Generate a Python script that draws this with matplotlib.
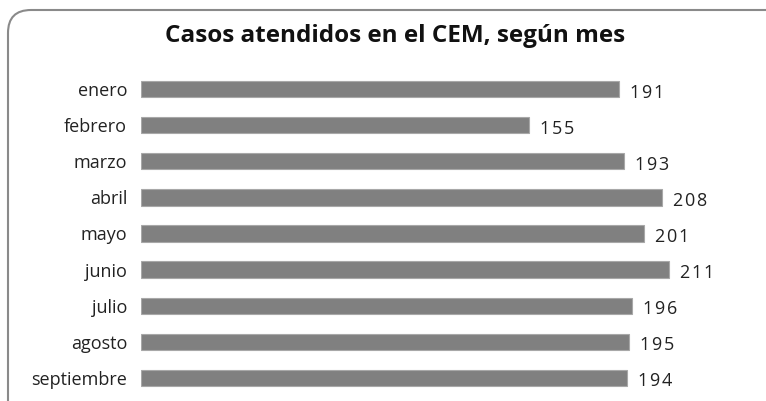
import matplotlib.pyplot as plt
from matplotlib.patches import FancyBboxPatch

meses = ['enero', 'febrero', 'marzo', 'abril', 'mayo', 'junio', 'julio', 'agosto', 'septiembre']
casos = [191, 155, 193, 208, 201, 211, 196, 195, 194]

plt.rcParams['font.family'] = ['Open Sans', 'DejaVu Sans']

W, H = 766, 401
fig = plt.figure(figsize=(W / 100, H / 100), dpi=100)

# marco redondeado (recortado a la derecha y abajo)
frame = FancyBboxPatch((8 / W, -0.2), 1.2, (H - 10) / H + 0.2,
                       boxstyle='round,pad=0,rounding_size=0.03',
                       transform=fig.transFigure, facecolor='none',
                       edgecolor='#8a8a8a', linewidth=1.5, mutation_aspect=W / H)
fig.patches.append(frame)

ax = fig.add_axes([141 / W, 5 / H, 600 / W, 325 / H])
ypos = list(range(len(meses)))
ax.barh(ypos, casos, height=0.45, color='#808080', edgecolor='#a8a8a8', linewidth=0.8)
ax.set_xlim(0, 600 / 2.503)
ax.set_ylim(len(meses) - 0.5, -0.5)
ax.set_yticks(ypos)
ax.set_yticklabels(meses, fontsize=13, color='#222222')
ax.tick_params(axis='y', length=0, pad=10)
ax.set_xticks([])
for s in ax.spines.values():
    s.set_visible(False)

for y, v in zip(ypos, casos):
    ax.annotate('\u200a'.join(str(v)), (v, y), xytext=(8, -2.5), textcoords='offset points',
                ha='left', va='center', fontsize=13, color='#222222')

fig.text(395 / W, 1 - 36 / H, 'Casos atendidos en el CEM, según mes', ha='center', va='center',
         fontsize=17.5, fontweight='bold', color='#111111')

fig.savefig('out.png', dpi=100)
